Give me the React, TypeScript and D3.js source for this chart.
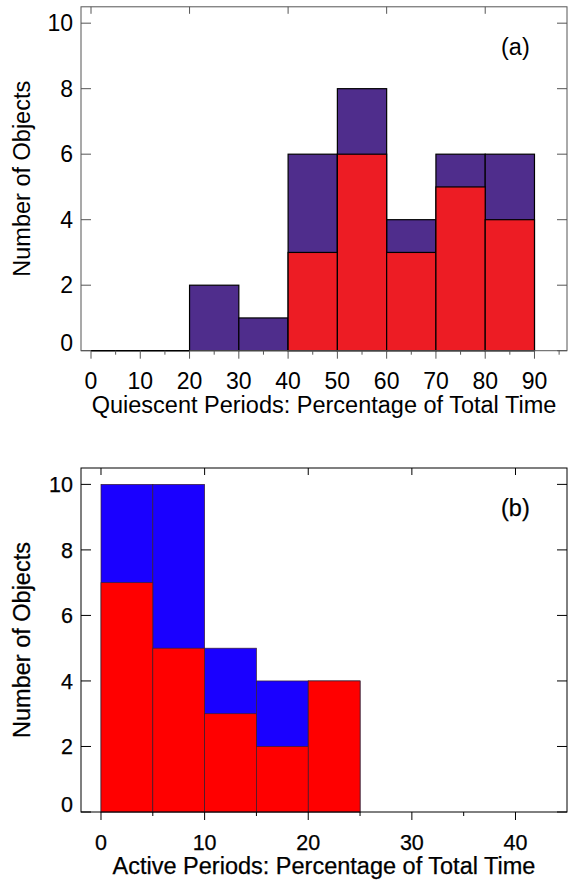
import React from "react";
import * as d3 from "d3";

// Quiescent-period histogram (panel a), bins of 10 %
const quiescentBinStarts = [0, 10, 20, 30, 40, 50, 60, 70, 80];
const quiescentTotal = [0, 0, 2, 1, 6, 8, 4, 6, 6];
const quiescentSubset = [0, 0, 0, 0, 3, 6, 3, 5, 4];
const quiescentTicks = [0, 10, 20, 30, 40, 50, 60, 70, 80, 90];

// Active-period histogram (panel b), bins of 5 %
const activeBinStarts = [0, 5, 10, 15, 20];
const activeTotal = [10, 10, 5, 4, 4];
const activeSubset = [7, 5, 3, 2, 4];
const activeTicks = [0, 10, 20, 30, 40];

const yTicks = [0, 2, 4, 6, 8, 10];

const FONT = "Arial, 'Liberation Sans', Helvetica, sans-serif";

type PanelProps = {
  binStarts: number[];
  binWidth: number;
  total: number[];
  subset: number[];
  xDomain: [number, number];
  xTicks: number[];
  xMinor: number[];
  topTicks: number[];
  top: number;
  bottom: number;
  xLabel: string;
  tag: string;
  totalColor: string;
  subsetColor: string;
  barStroke: string;
  barStrokeWidth: number;
  frameColor: string;
  fontSize: number;
  labelSize: number;
  textStroke: number;
  zeroLine: boolean;
};

const LEFT = 81;
const RIGHT = 567;

function Panel(p: PanelProps) {
  const x = d3.scaleLinear().domain(p.xDomain).range([LEFT, RIGHT]);
  const y = d3.scaleLinear().domain([0, 10.5]).range([p.bottom, p.top]);
  const textStyle = {
    fontFamily: FONT,
    fontSize: p.fontSize,
    fill: "#000",
    stroke: p.textStroke > 0 ? "#000" : "none",
    strokeWidth: p.textStroke,
  };
  const labelStyle = { ...textStyle, fontSize: p.labelSize };
  const midX = (LEFT + RIGHT) / 2;
  const midY = (p.top + p.bottom) / 2;
  return (
    <g>
      {/* total counts */}
      {p.binStarts.map((b, i) =>
        p.total[i] > 0 ? (
          <rect
            key={"t" + i}
            x={x(b)}
            y={y(p.total[i])}
            width={x(b + p.binWidth) - x(b)}
            height={y(0) - y(p.total[i])}
            fill={p.totalColor}
            stroke={p.barStroke}
            strokeWidth={p.barStrokeWidth}
          />
        ) : null
      )}
      {/* subset counts */}
      {p.binStarts.map((b, i) =>
        p.subset[i] > 0 ? (
          <rect
            key={"s" + i}
            x={x(b)}
            y={y(p.subset[i])}
            width={x(b + p.binWidth) - x(b)}
            height={y(0) - y(p.subset[i])}
            fill={p.subsetColor}
            stroke={p.barStroke}
            strokeWidth={p.barStrokeWidth}
          />
        ) : null
      )}
      {/* frame */}
      <rect
        x={LEFT}
        y={p.top}
        width={RIGHT - LEFT}
        height={p.bottom - p.top}
        fill="none"
        stroke={p.frameColor}
        strokeWidth={1}
      />
      {p.zeroLine &&
        p.binStarts.map((b, i) =>
          p.total[i] === 0 ? (
            <line
              key={"z" + i}
              x1={x(b)}
              x2={x(b + p.binWidth)}
              y1={y(0)}
              y2={y(0)}
              stroke="#000"
              strokeWidth={1.5}
            />
          ) : null
        )}
      {/* y ticks, left and right */}
      {yTicks.map((t) => (
        <g key={"yt" + t}>
          <line x1={LEFT} x2={LEFT + 10} y1={y(t)} y2={y(t)} stroke={p.frameColor} />
          <line x1={RIGHT} x2={RIGHT - 10} y1={y(t)} y2={y(t)} stroke={p.frameColor} />
          <text
            x={LEFT - 8}
            y={y(t) - (t === 0 ? 8 : 0)}
            dy="0.36em"
            textAnchor="end"
            style={textStyle}
          >
            {t}
          </text>
        </g>
      ))}
      {/* bottom ticks */}
      {p.xTicks.map((t) => (
        <g key={"xt" + t}>
          <line x1={x(t)} x2={x(t)} y1={p.bottom} y2={p.bottom + 8} stroke={p.frameColor} />
          <text x={x(t)} y={p.bottom + 38} textAnchor="middle" style={textStyle}>
            {t}
          </text>
        </g>
      ))}
      {p.xMinor.map((t) => (
        <line key={"xm" + t} x1={x(t)} x2={x(t)} y1={p.bottom} y2={p.bottom + 4} stroke={p.frameColor} />
      ))}
      {/* top ticks */}
      {p.topTicks.map((t) => (
        <line key={"tt" + t} x1={x(t)} x2={x(t)} y1={p.top} y2={p.top + 7} stroke={p.frameColor} />
      ))}
      <text x={midX} y={p.bottom + 62} textAnchor="middle" style={labelStyle}>
        {p.xLabel}
      </text>
      <text
        transform={`translate(30,${midY}) rotate(-90)`}
        textAnchor="middle"
        style={labelStyle}
      >
        Number of Objects
      </text>
      <text x={501} y={p.top + 48} style={labelStyle}>
        {p.tag}
      </text>
    </g>
  );
}

export default function App() {
  const range = (a: number, b: number, s: number) => d3.range(a, b + 0.001, s);
  return (
    <svg
      width={569}
      height={880}
      style={{ position: "absolute", left: 0, top: 0, background: "#fff" }}
    >
      <rect x={0} y={0} width={569} height={880} fill="#fff" />
      <Panel
        binStarts={quiescentBinStarts}
        binWidth={10}
        total={quiescentTotal}
        subset={quiescentSubset}
        xDomain={[-2.03, 96.6]}
        xTicks={quiescentTicks}
        xMinor={range(5, 95, 10)}
        topTicks={range(0, 80, 20)}
        top={6.8}
        bottom={350.7}
        xLabel="Quiescent Periods: Percentage of Total Time"
        tag="(a)"
        totalColor="#4f2d8c"
        subsetColor="#ed1c24"
        barStroke="#000"
        barStrokeWidth={1.2}
        frameColor="#555"
        fontSize={23}
        labelSize={23.5}
        textStroke={0}
        zeroLine={true}
      />
      <Panel
        binStarts={activeBinStarts}
        binWidth={5}
        total={activeTotal}
        subset={activeSubset}
        xDomain={[-1.93, 44.97]}
        xTicks={activeTicks}
        xMinor={range(5, 35, 10)}
        topTicks={activeTicks}
        top={468}
        bottom={812}
        xLabel="Active Periods: Percentage of Total Time"
        tag="(b)"
        totalColor="#1a00ff"
        subsetColor="#ff0000"
        barStroke="#3a2030"
        barStrokeWidth={0.7}
        frameColor="#000"
        fontSize={21.5}
        labelSize={23.5}
        textStroke={0.25}
        zeroLine={false}
      />
    </svg>
  );
}
